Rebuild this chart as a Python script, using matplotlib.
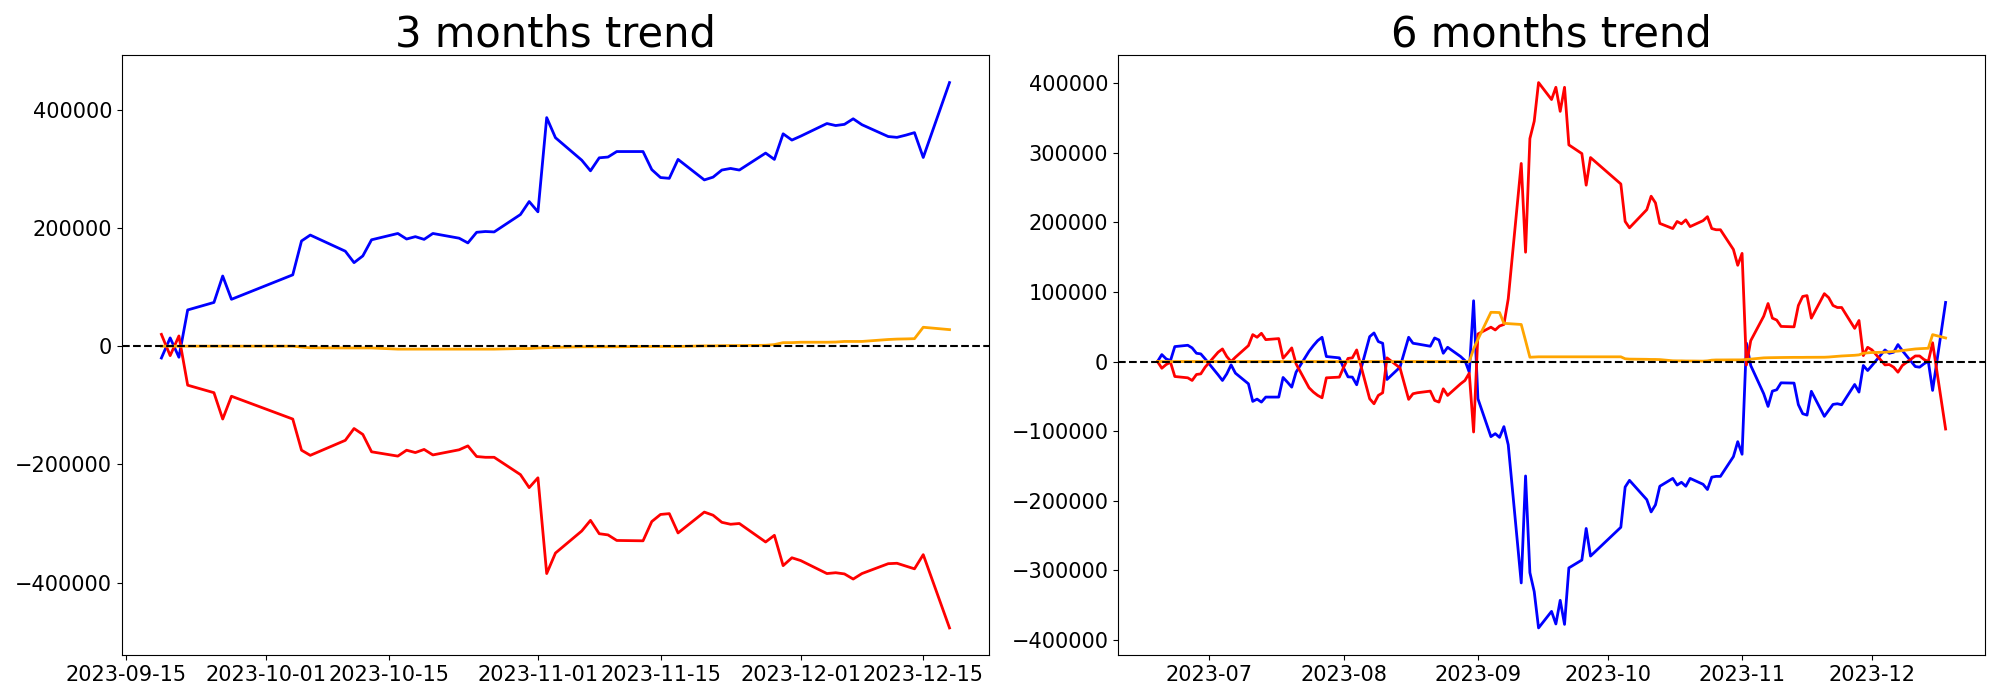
import matplotlib
matplotlib.use("Agg")
import matplotlib.pyplot as plt
import matplotlib.dates as mdates
import pandas as pd

# ---------------- 3 months data ----------------
dates_3m = [
    "2023-09-19", "2023-09-20", "2023-09-21", "2023-09-22", "2023-09-25", "2023-09-26", "2023-09-27",
    "2023-10-04", "2023-10-05", "2023-10-06", "2023-10-10", "2023-10-11", "2023-10-12", "2023-10-13",
    "2023-10-16", "2023-10-17", "2023-10-18", "2023-10-19", "2023-10-20",
    "2023-10-23", "2023-10-24", "2023-10-25", "2023-10-26", "2023-10-27",
    "2023-10-30", "2023-10-31", "2023-11-01", "2023-11-02", "2023-11-03",
    "2023-11-06", "2023-11-07", "2023-11-08", "2023-11-09", "2023-11-10",
    "2023-11-13", "2023-11-14", "2023-11-15", "2023-11-16", "2023-11-17",
    "2023-11-20", "2023-11-21", "2023-11-22", "2023-11-23", "2023-11-24",
    "2023-11-27", "2023-11-28", "2023-11-29", "2023-11-30", "2023-12-01",
    "2023-12-04", "2023-12-05", "2023-12-06", "2023-12-07", "2023-12-08",
    "2023-12-11", "2023-12-12", "2023-12-13", "2023-12-14", "2023-12-15",
    "2023-12-18",
]
blue_3m = [
    -20000, 14000, -18700, 61300, 74000, 118700, 79300,
    120700, 178000, 188000, 160700, 141300, 152700, 180000,
    190700, 181300, 185300, 180700, 190700,
    182700, 174700, 192700, 194000, 193300,
    222700, 244700, 227300, 386700, 352700,
    314700, 296700, 318700, 320000, 329300,
    329300, 298700, 285300, 284000, 316000,
    281300, 286000, 298000, 300700, 298000,
    326700, 316000, 359300, 348700, 355300,
    376700, 373300, 375300, 384700, 374700,
    354700, 353300, 357000, 361300, 319300,
    446000,
]
red_3m = [
    20000, -16000, 17300, -66000, -78700, -123300, -84700,
    -123300, -176000, -184700, -159300, -139300, -149300, -178700,
    -186000, -176000, -180000, -174700, -184000,
    -175300, -168700, -186700, -188000, -188000,
    -217300, -239300, -222700, -384700, -350000,
    -312700, -294700, -317300, -319300, -328700,
    -329300, -296700, -284700, -283300, -316000,
    -280700, -286000, -298000, -301300, -300000,
    -331300, -320000, -371300, -358000, -362700,
    -384700, -383300, -385300, -394000, -384700,
    -368000, -367300, -372000, -376700, -352700,
    -476700,
]
orange_3m = [
    0, 0, 0, 0, 0, 0, 0,
    0, -1500, -2700, -3000, -3000, -3000, -3000,
    -5000, -5000, -5000, -5000, -5000,
    -5000, -5000, -5000, -5000, -5000,
    -4000, -4000, -3000, -2500, -2000,
    -1000, -1000, -1000, -1000, -1000,
    -500, -500, -500, -500, -500,
    500, 500, 800, 1000, 1000,
    1500, 2700, 6000, 6000, 6700,
    6700, 7000, 8000, 8000, 8000,
    11300, 12000, 12300, 12700, 32000,
    28000,
]

# ---------------- 6 months data ----------------
dates_6m = [
    "2023-06-19", "2023-06-20", "2023-06-21", "2023-06-22", "2023-06-23",
    "2023-06-26", "2023-06-27", "2023-06-28", "2023-06-29", "2023-06-30",
    "2023-07-03", "2023-07-04", "2023-07-05", "2023-07-06", "2023-07-07",
    "2023-07-10", "2023-07-11", "2023-07-12", "2023-07-13", "2023-07-14",
    "2023-07-17", "2023-07-18", "2023-07-19", "2023-07-20", "2023-07-21",
    "2023-07-24", "2023-07-25", "2023-07-26", "2023-07-27", "2023-07-28",
    "2023-07-31", "2023-08-01", "2023-08-02", "2023-08-03", "2023-08-04",
    "2023-08-07", "2023-08-08", "2023-08-09", "2023-08-10", "2023-08-11",
    "2023-08-14", "2023-08-16", "2023-08-17", "2023-08-18",
    "2023-08-21", "2023-08-22", "2023-08-23", "2023-08-24", "2023-08-25",
    "2023-08-28", "2023-08-29", "2023-08-30", "2023-08-31", "2023-09-01",
    "2023-09-04", "2023-09-05", "2023-09-06", "2023-09-07", "2023-09-08",
    "2023-09-11", "2023-09-12", "2023-09-13", "2023-09-14", "2023-09-15",
    "2023-09-18", "2023-09-19", "2023-09-20", "2023-09-21", "2023-09-22",
    "2023-09-25", "2023-09-26", "2023-09-27",
    "2023-10-04", "2023-10-05", "2023-10-06",
    "2023-10-10", "2023-10-11", "2023-10-12", "2023-10-13",
    "2023-10-16", "2023-10-17", "2023-10-18", "2023-10-19", "2023-10-20",
    "2023-10-23", "2023-10-24", "2023-10-25", "2023-10-26", "2023-10-27",
    "2023-10-30", "2023-10-31", "2023-11-01", "2023-11-02", "2023-11-03",
    "2023-11-06", "2023-11-07", "2023-11-08", "2023-11-09", "2023-11-10",
    "2023-11-13", "2023-11-14", "2023-11-15", "2023-11-16", "2023-11-17",
    "2023-11-20", "2023-11-21", "2023-11-22", "2023-11-23", "2023-11-24",
    "2023-11-27", "2023-11-28", "2023-11-29", "2023-11-30", "2023-12-01",
    "2023-12-04", "2023-12-05", "2023-12-06", "2023-12-07", "2023-12-08",
    "2023-12-11", "2023-12-12", "2023-12-13", "2023-12-14", "2023-12-15",
    "2023-12-18",
]
blue_6m = [
    0, 10000, 3800, 1400, 21500,
    23400, 19600, 11900, 11000, 3800,
    -19100, -27200, -17700, -4800, -16700,
    -32000, -57300, -54000, -58300, -51100,
    -51100, -22900, -29600, -36800, -15300,
    14800, 22900, 30100, 34900, 7200,
    5300, -9500, -22000, -22400, -33400,
    35800, 41100, 28700, 26300, -25800,
    -8100, 34900, 26300, 25300,
    22000, 33900, 31000, 11900, 20500,
    7200, 1400, -15300, 87400, -53500,
    -108000, -103700, -109000, -93600, -119700,
    -318300, -164500, -303500, -330800, -383000,
    -359200, -377300, -343300, -377900, -296700,
    -285400, -240000, -279700,
    -238300, -180400, -170800,
    -198600, -216200, -206000, -179300,
    -168000, -177600, -173600, -179300, -168000,
    -176500, -184000, -166200, -165100, -165100,
    -136700, -115200, -133300, 26500, -5700,
    -46300, -64500, -42500, -40600, -30600,
    -31000, -62000, -75000, -77000, -42800,
    -78800, -70200, -61600, -60700, -62100,
    -33000, -43900, -5700, -12900, -5700,
    16700, 11900, 13400, 24400, 15800,
    -7200, -8100, -3300, 500, -41500,
    85000,
]
red_6m = [
    0, -9600, -4300, -1000, -21500,
    -23400, -27200, -18600, -17700, -8100,
    13400, 18100, 7200, 0, 6200,
    22900, 38700, 34900, 40600, 31500,
    33000, 4800, 11900, 19600, -3300,
    -37700, -43900, -48700, -52100, -23400,
    -22400, -8100, 4500, 5300, 16700,
    -53500, -60700, -48700, -44900, 5300,
    -9100, -54400, -46300, -44900,
    -42500, -55900, -58300, -39200, -48700,
    -32000, -27200, -16700, -101300, 39600,
    49400, 45400, 51100, 53300, 90200,
    284800, 157200, 320600, 345500, 401100,
    376700, 394300, 359700, 394300, 311500,
    299000, 253600, 293300,
    255300, 201400, 192300,
    218400, 237700, 228100, 198600,
    191200, 201400, 198000, 203700, 194000,
    202600, 208300, 191200, 189500, 189500,
    161100, 138400, 155500, -5000, 30000,
    65200, 83400, 62400, 59600, 50500,
    49900, 80600, 93600, 94800, 62400,
    97600, 91900, 80600, 77700, 77700,
    47700, 59000, 8600, 20500, 16700,
    -4800, -4300, -8100, -15300, -5700,
    8000, 8000, 3000, 0, 27000,
    -97000,
]
orange_6m = [
    0, 0, 0, 0, 0,
    0, 0, 0, 0, 0,
    0, 0, 0, 0, 0,
    0, 0, 0, 0, 0,
    0, 0, 0, 0, 0,
    0, 0, 0, 0, 0,
    0, 0, 0, 0, 0,
    0, 0, 0, 0, 0,
    0, 0, 0, 0,
    0, 0, 0, 0, 0,
    0, 0, 0, 18100, 32000,
    70800, 70700, 70400, 55000, 54500,
    53300, 30000, 6200, 6500, 6800,
    6800, 6800, 6800, 6800, 6800,
    6800, 6800, 6800,
    6800, 4000, 3500,
    3200, 3000, 3000, 2800,
    1100, 1000, 1000, 800, 800,
    600, 1000, 2000, 2300, 2300,
    2400, 2400, 2400, 3000, 3500,
    5300, 5500, 5600, 5700, 5800,
    6000, 6000, 6000, 6100, 6100,
    6200, 6500, 7000, 7500, 8000,
    9000, 9600, 11900, 12500, 13000,
    13400, 14000, 14500, 15000, 15800,
    18100, 18500, 18800, 19100, 38700,
    33900,
]

titles = ["3 months trend", "6 months trend"]

fig, axes = plt.subplots(1, 2, figsize=(20, 7), dpi=100)
fig.subplots_adjust(left=0.061, right=0.9925, top=0.921, bottom=0.064, wspace=0.149)

datasets = [
    (dates_3m, blue_3m, red_3m, orange_3m),
    (dates_6m, blue_6m, red_6m, orange_6m),
]

for ax, (d, b, r, o), title in zip(axes, datasets, titles):
    x = pd.to_datetime(d)
    ax.plot(x, b, color="blue", linewidth=2)
    ax.plot(x, r, color="red", linewidth=2)
    ax.plot(x, o, color="orange", linewidth=2)
    ax.axhline(0, color="black", linestyle="--", linewidth=1.5)
    ax.set_title(title, fontsize=30)
    ax.tick_params(axis="both", labelsize=15)

axes[0].xaxis.set_major_locator(mdates.DayLocator(bymonthday=[1, 15]))
axes[0].xaxis.set_major_formatter(mdates.DateFormatter("%Y-%m-%d"))
axes[1].xaxis.set_major_locator(mdates.MonthLocator())
axes[1].xaxis.set_major_formatter(mdates.DateFormatter("%Y-%m"))

fig.savefig("out.png", dpi=100)
